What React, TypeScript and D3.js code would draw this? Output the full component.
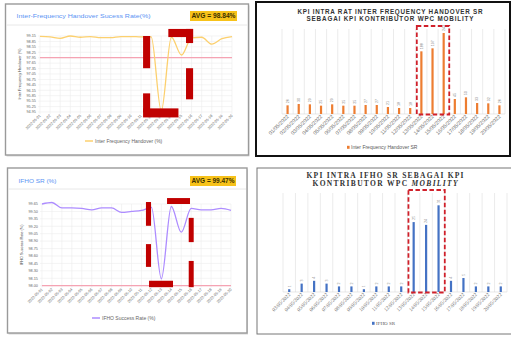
import React from "react";
import * as d3 from "d3";

// ---------- DATA ----------
const lineDates = [
  "2022-05-01", "2022-05-02", "2022-05-03", "2022-05-04", "2022-05-05",
  "2022-05-06", "2022-05-07", "2022-05-08", "2022-05-09", "2022-05-10",
  "2022-05-11", "2022-05-12", "2022-05-13", "2022-05-14", "2022-05-15",
  "2022-05-16", "2022-05-17", "2022-05-18", "2022-05-19", "2022-05-20",
];
const interFreqRate = [
  99.13, 99.1, 99.02, 99.15, 99.08, 99.12, 99.06, 99.06, 99.12, 99.12,
  99.1, 99.1, 95.0, 99.08, 98.1, 99.05, 99.08, 98.7, 99.0, 99.12,
];
const interFreqTicks = [
  99.15, 98.85, 98.55, 98.25, 97.95, 97.65, 97.35, 97.05, 96.75, 96.45,
  96.15, 95.85, 95.55, 95.25, 94.95,
];
const interFreqThreshold = 97.95;

const ifhoRate = [
  99.65, 99.68, 99.57, 99.57, 99.56, 99.53, 99.57, 99.57, 99.48, 99.5,
  99.52, 99.58, 98.14, 99.6, 99.08, 99.56, 99.53, 99.53, 99.56, 99.52,
];
const ifhoTicks = [
  99.65, 99.5, 99.35, 99.2, 99.05, 98.9, 98.75, 98.6, 98.45, 98.3, 98.15, 98.0,
];
const ifhoThreshold = 98.0;

const interFreqBarDates = [
  "01/05/2022", "02/05/2022", "03/05/2022", "04/05/2022", "05/05/2022",
  "06/05/2022", "07/05/2022", "08/05/2022", "09/05/2022", "10/05/2022",
  "11/05/2022", "12/05/2022", "13/05/2022", "14/05/2022", "15/05/2022",
  "16/05/2022", "17/05/2022", "18/05/2022", "19/05/2022", "20/05/2022",
];
const interFreqBarValues = [
  26, 30, 29, 25, 29, 25, 25, 27, 27, 21, 18, 18, 188, 197, 243, 45, 50, 33, 32, 26,
];

const ifhoBarDates = [
  "03/05/2022", "04/05/2022", "05/05/2022", "06/05/2022", "07/05/2022",
  "08/05/2022", "09/05/2022", "10/05/2022", "11/05/2022", "12/05/2022",
  "13/05/2022", "14/05/2022", "15/05/2022", "16/05/2022", "17/05/2022",
  "18/05/2022", "19/05/2022", "20/05/2022",
];
const ifhoBarValues = [1, 3, 4, 3, 2, 2, 1, 2, 2, 2, 25, 24, 31, 4, 5, 2, 2, 2];

// annotation brackets: [index0, index1, value0, value1]
const interFreqMarks = [
  [10.2, 10.9, 99.15, 97.37],
  [10.2, 10.9, 95.98, 94.93],
  [10.2, 13.7, 95.15, 94.65],
  [12.7, 15.15, 99.54, 99.09],
  [14.45, 15.15, 99.54, 98.76],
  [14.45, 15.15, 97.37, 95.65],
];
const ifhoMarks = [
  [10.45, 10.96, 99.69, 99.21],
  [10.45, 10.96, 98.84, 98.38],
  [10.76, 13.17, 98.1, 97.97],
  [12.57, 14.88, 99.77, 99.65],
  [14.75, 15.25, 99.37, 98.88],
  [14.75, 15.25, 98.5, 97.97],
];

const SANS = "'Liberation Sans', Arial, sans-serif";
const SERIF = "'Liberation Serif', 'Times New Roman', serif";

type LineCardProps = {
  card: [number, number, number, number];
  title: string;
  titleLen: number;
  titleY: number;
  sepY: number;
  avg: string;
  avgBox: [number, number, number, number];
  plot: [number, number, number, number];
  dates: string[];
  values: number[];
  ticks: number[];
  threshold: number;
  color: string;
  yTitle: string;
  legend: string;
  legendX: number;
  legendY: number;
  marks: number[][];
};

function LineCard(p: LineCardProps) {
  const [cx, cy, cw, ch] = p.card;
  const [x0, x1, y0, y1] = p.plot;
  const xi = d3.scaleLinear().domain([0, p.dates.length - 1]).range([x0, x1]);
  const ys = d3
    .scaleLinear()
    .domain([d3.min(p.ticks) as number, d3.max(p.ticks) as number])
    .range([y1, y0]);
  const line = d3
    .line<number>()
    .x((_, i) => xi(i))
    .y((d) => ys(d))
    .curve(d3.curveMonotoneX);
  const clipId = "clip" + Math.round(cx) + Math.round(cy);
  return (
    <g>
      <rect x={cx + 1} y={cy + 1.5} width={cw} height={ch} fill="#d8d8d8" />
      <rect x={cx} y={cy} width={cw} height={ch} fill="#fff" stroke="#9a9a9a" strokeWidth={1.4} />
      <text
        x={cx + 11}
        y={p.titleY}
        fontFamily={SANS}
        fontSize={6.2}
        fill="#5a93f3"
        textLength={p.titleLen}
        lengthAdjust="spacingAndGlyphs"
      >
        {p.title}
      </text>
      <rect x={p.avgBox[0]} y={p.avgBox[1]} width={p.avgBox[2]} height={p.avgBox[3]} fill="#f7c21a" />
      <text
        x={p.avgBox[0] + p.avgBox[2] / 2}
        y={p.avgBox[1] + p.avgBox[3] / 2 + 2.3}
        textAnchor="middle"
        fontFamily={SANS}
        fontSize={6.5}
        fontWeight="bold"
        fill="#3a3000"
        textLength={p.avgBox[2] - 3}
        lengthAdjust="spacingAndGlyphs"
      >
        {p.avg}
      </text>
      <line x1={cx + 1} x2={cx + cw - 1} y1={p.sepY} y2={p.sepY} stroke="#e2e2e2" strokeWidth={0.8} />
      <defs>
        <clipPath id={clipId}>
          <rect x={x0 - 2} y={y0 - 6} width={x1 - x0 + 4} height={y1 - y0 + 7} />
        </clipPath>
      </defs>
      {p.ticks.map((t) => (
        <g key={t}>
          <line x1={x0 - 2} x2={x1} y1={ys(t)} y2={ys(t)} stroke="#ececec" strokeWidth={0.6} />
          <text x={x0 - 4} y={ys(t) + 1.3} textAnchor="end" fontFamily={SANS} fontSize={3.8} fill="#666">
            {t.toFixed(2)}
          </text>
        </g>
      ))}
      {p.dates.map((d, i) => (
        <g key={d}>
          <line x1={xi(i)} x2={xi(i)} y1={y0} y2={y1 + 2} stroke="#ececec" strokeWidth={0.6} />
          <text
            transform={`translate(${xi(i) + 1},${y1 + 4}) rotate(-45)`}
            textAnchor="end"
            fontFamily={SANS}
            fontSize={3.8}
            fill="#666"
          >
            {d}
          </text>
        </g>
      ))}
      <text
        transform={`translate(${cx + 15},${(y0 + y1) / 2}) rotate(-90)`}
        textAnchor="middle"
        fontFamily={SANS}
        fontSize={3.8}
        fill="#444"
      >
        {p.yTitle}
      </text>
      <line
        x1={x0}
        x2={x1}
        y1={ys(p.threshold)}
        y2={ys(p.threshold)}
        stroke="#f5a3b3"
        strokeWidth={1.3}
      />
      <path d={line(p.values) || ""} fill="none" stroke={p.color} strokeWidth={1.3} clipPath={`url(#${clipId})`} />
      <line x1={p.legendX} x2={p.legendX + 8} y1={p.legendY} y2={p.legendY} stroke={p.color} strokeWidth={1.5} />
      <text x={p.legendX + 10} y={p.legendY + 1.8} fontFamily={SANS} fontSize={5} fill="#666">
        {p.legend}
      </text>
      {p.marks.map((m, k) => (
        <rect
          key={k}
          x={xi(m[0])}
          y={ys(m[2])}
          width={xi(m[1]) - xi(m[0])}
          height={ys(m[3]) - ys(m[2])}
          fill="#c00000"
        />
      ))}
    </g>
  );
}

type BarPanelProps = {
  frame: [number, number, number, number];
  frameColor: string;
  frameWidth: number;
  font: string;
  titles: { text: string; len: number; y: number }[];
  titleX: number;
  titleSize: number;
  titleItalicWord?: string;
  plot: [number, number, number, number];
  yMax: number;
  dates: string[];
  values: number[];
  color: string;
  labelSize: number;
  legend: string;
  legendX: number;
  legendY: number;
  highlight: [number, number];
};

function BarPanel(p: BarPanelProps) {
  const [fx, fy, fw, fh] = p.frame;
  const [x0, x1, y0, y1] = p.plot;
  const xb = d3.scaleBand<string>().domain(p.dates).range([x0, x1]).padding(0);
  const ys = d3.scaleLinear().domain([0, p.yMax]).range([y1, y0]);
  const bw = 2.2;
  const hx0 = xb(p.dates[p.highlight[0]]) as number;
  const hx1 = (xb(p.dates[p.highlight[1]]) as number) + xb.bandwidth();
  return (
    <g>
      <rect x={fx} y={fy} width={fw} height={fh} fill="#fff" stroke={p.frameColor} strokeWidth={p.frameWidth} />
      {p.titles.map((t) => {
        const parts = p.titleItalicWord && t.text.includes(p.titleItalicWord)
          ? t.text.split(p.titleItalicWord)
          : null;
        return (
          <text
            key={t.text}
            x={p.titleX}
            y={t.y}
            textAnchor="middle"
            fontFamily={p.font}
            fontSize={p.titleSize}
            fontWeight="bold"
            fill="#333"
            textLength={t.len}
            lengthAdjust="spacing"
          >
            {parts ? (
              <>
                {parts[0]}
                <tspan fontStyle="italic">{p.titleItalicWord}</tspan>
                {parts[1]}
              </>
            ) : (
              t.text
            )}
          </text>
        );
      })}
      {d3.range(p.dates.length + 1).map((i) => {
        const gx = x0 + i * xb.step();
        return <line key={i} x1={gx} x2={gx} y1={y0} y2={y1} stroke="#e6e6e6" strokeWidth={0.8} />;
      })}
      <line x1={x0} x2={x1} y1={y1} y2={y1} stroke="#d9d9d9" strokeWidth={0.6} />
      {p.dates.map((d, i) => {
        const cxm = (xb(d) as number) + xb.bandwidth() / 2;
        const v = p.values[i];
        return (
          <g key={d}>
            <rect x={cxm - bw / 2} y={ys(v)} width={bw} height={y1 - ys(v)} fill={p.color} />
            <text
              transform={`translate(${cxm + 1.3},${ys(v) - 2}) rotate(-90)`}
              fontFamily={p.font}
              fontSize={p.labelSize}
              fill="#7f7f7f"
            >
              {v}
            </text>
            <text
              transform={`translate(${cxm + 1.5},${y1 + 3}) rotate(-45)`}
              textAnchor="end"
              fontFamily={p.font}
              fontSize={5.2}
              fill="#6f6f6f"
            >
              {d}
            </text>
          </g>
        );
      })}
      <rect
        x={hx0 + 1}
        y={y0 - 3}
        width={hx1 - hx0 - 1}
        height={y1 - y0 + 3.5}
        fill="none"
        stroke="#d0202a"
        strokeWidth={1.8}
        strokeDasharray="4.5 2.5"
      />
      <rect x={p.legendX} y={p.legendY - 2.2} width={2.6} height={3} fill={p.color} />
      <text x={p.legendX + 4} y={p.legendY + 1.2} fontFamily={p.font} fontSize={5} fill="#595959">
        {p.legend}
      </text>
    </g>
  );
}

export default function App() {
  return (
    <svg
      width={511}
      height={338}
      style={{ position: "absolute", left: 0, top: 0, background: "#fff" }}
    >
      <rect x={0} y={0} width={511} height={338} fill="#fff" />
      <LineCard
        card={[5.5, 4, 243, 151]}
        title="Inter-Frequency Handover Sucess Rate(%)"
        titleLen={134}
        titleY={17.5}
        sepY={25}
        avg="AVG = 98.84%"
        avgBox={[190, 11, 47, 10]}
        plot={[40, 232, 36, 112]}
        dates={lineDates}
        values={interFreqRate}
        ticks={interFreqTicks}
        threshold={interFreqThreshold}
        color="#fcd06e"
        yTitle="Inter Frequency Handover (%)"
        legend="Inter Frequency Handover (%)"
        legendX={85}
        legendY={141}
        marks={interFreqMarks}
      />
      <LineCard
        card={[7.5, 168, 239.5, 165]}
        title="IFHO SR (%)"
        titleLen={38}
        titleY={182.5}
        sepY={189}
        avg="AVG = 99.47%"
        avgBox={[190, 176, 46, 10]}
        plot={[42, 231, 204, 285.7]}
        dates={lineDates}
        values={ifhoRate}
        ticks={ifhoTicks}
        threshold={ifhoThreshold}
        color="#ad8cff"
        yTitle="IFHO Success Rate (%)"
        legend="IFHO Success Rate (%)"
        legendX={92}
        legendY={318}
        marks={ifhoMarks}
      />
      <BarPanel
        frame={[256, 2, 254, 154]}
        frameColor="#111"
        frameWidth={2}
        font={SANS}
        titles={[
          { text: "KPI INTRA RAT INTER FREQUENCY HANDOVER SR", len: 185, y: 13.5 },
          { text: "SEBAGAI KPI KONTRIBUTOR WPC MOBILITY", len: 167, y: 21 },
        ]}
        titleX={390}
        titleSize={6.3}
        plot={[282, 505, 29, 114]}
        yMax={255}
        dates={interFreqBarDates}
        values={interFreqBarValues}
        color="#ed7d31"
        labelSize={3.6}
        legend="Inter Frequency Handover SR"
        legendX={347}
        legendY={148}
        highlight={[12, 14]}
      />
      <BarPanel
        frame={[257, 168, 256, 166]}
        frameColor="#777"
        frameWidth={1}
        font={SERIF}
        titles={[
          { text: "KPI INTRA IFHO SR SEBAGAI KPI", len: 157, y: 178 },
          { text: "KONTRIBUTOR WPC MOBILITY", len: 145, y: 186 },
        ]}
        titleX={385}
        titleSize={7.5}
        titleItalicWord="MOBILITY"
        plot={[283, 507, 193, 292]}
        yMax={35.4}
        dates={ifhoBarDates}
        values={ifhoBarValues}
        color="#4472c4"
        labelSize={4}
        legend="IFHO SR"
        legendX={372}
        legendY={324}
        highlight={[10, 12]}
      />
    </svg>
  );
}
